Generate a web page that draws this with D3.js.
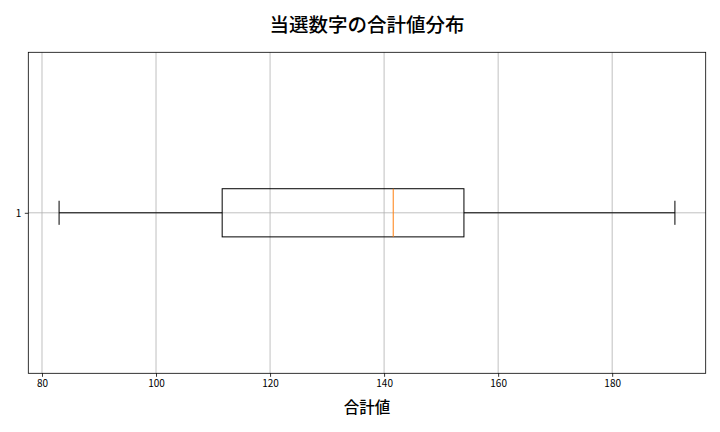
<!DOCTYPE html>
<html>
<head>
<meta charset="utf-8">
<script src="https://cdn.jsdelivr.net/npm/d3@7"></script>
<style>
  body { margin: 0; background: #fff; }
  text { font-family: "Noto Sans CJK JP", "Noto Sans", sans-serif; }
</style>
</head>
<body>
<div id="chart"></div>
<script>
// box plot summary
var categories = ["1"];
var whiskerLow = [83];
var q1 = [111.6];
var median = [141.6];
var q3 = [154];
var whiskerHigh = [191];
var xTicks = [80, 100, 120, 140, 160, 180];

var svgWidth = 720;
var svgHeight = 432;

var margin = { top: 52.3, right: 14.3, bottom: 58.7, left: 28.3 };
var width = svgWidth - margin.left - margin.right;
var height = svgHeight - margin.top - margin.bottom;

var svg = d3.select("#chart")
  .append("svg")
  .attr("width", svgWidth)
  .attr("height", svgHeight);

var chartGroup = svg.append("g")
  .attr("transform", `translate(${margin.left}, ${margin.top})`);

// matplotlib-ish 5% margins on the data range
var lo = d3.min(whiskerLow), hi = d3.max(whiskerHigh);
var pad = (hi - lo) * 0.05;
var xScale = d3.scaleLinear()
  .domain([lo - pad, hi + pad])
  .range([0, width]);

var yScale = d3.scaleLinear()
  .domain([0.5, categories.length + 0.5])
  .range([height, 0]);

var boxHalf = 0.075;
var capHalf = 0.0375;

// grid
chartGroup.append("g").selectAll("line")
  .data(xTicks)
  .enter()
  .append("line")
  .attr("x1", d => xScale(d))
  .attr("x2", d => xScale(d))
  .attr("y1", 0)
  .attr("y2", height)
  .attr("stroke", "#b0b0b0")
  .attr("stroke-width", 0.8);

chartGroup.append("g").selectAll("line")
  .data(categories)
  .enter()
  .append("line")
  .attr("x1", 0)
  .attr("x2", width)
  .attr("y1", (d, i) => yScale(i + 1))
  .attr("y2", (d, i) => yScale(i + 1))
  .attr("stroke", "#b0b0b0")
  .attr("stroke-width", 0.8);

// boxes
var boxes = chartGroup.selectAll(".box")
  .data(categories)
  .enter()
  .append("g")
  .attr("class", "box");

boxes.append("line")
  .attr("x1", (d, i) => xScale(whiskerLow[i]))
  .attr("x2", (d, i) => xScale(q1[i]))
  .attr("y1", (d, i) => yScale(i + 1))
  .attr("y2", (d, i) => yScale(i + 1))
  .attr("stroke", "black");

boxes.append("line")
  .attr("x1", (d, i) => xScale(q3[i]))
  .attr("x2", (d, i) => xScale(whiskerHigh[i]))
  .attr("y1", (d, i) => yScale(i + 1))
  .attr("y2", (d, i) => yScale(i + 1))
  .attr("stroke", "black");

boxes.append("line")
  .attr("x1", (d, i) => xScale(whiskerLow[i]))
  .attr("x2", (d, i) => xScale(whiskerLow[i]))
  .attr("y1", (d, i) => yScale(i + 1 + capHalf))
  .attr("y2", (d, i) => yScale(i + 1 - capHalf))
  .attr("stroke", "black");

boxes.append("line")
  .attr("x1", (d, i) => xScale(whiskerHigh[i]))
  .attr("x2", (d, i) => xScale(whiskerHigh[i]))
  .attr("y1", (d, i) => yScale(i + 1 + capHalf))
  .attr("y2", (d, i) => yScale(i + 1 - capHalf))
  .attr("stroke", "black");

boxes.append("rect")
  .attr("x", (d, i) => xScale(q1[i]))
  .attr("y", (d, i) => yScale(i + 1 + boxHalf))
  .attr("width", (d, i) => xScale(q3[i]) - xScale(q1[i]))
  .attr("height", (d, i) => yScale(i + 1 - boxHalf) - yScale(i + 1 + boxHalf))
  .attr("fill", "none")
  .attr("stroke", "black");

boxes.append("line")
  .attr("x1", (d, i) => xScale(median[i]))
  .attr("x2", (d, i) => xScale(median[i]))
  .attr("y1", (d, i) => yScale(i + 1 + boxHalf))
  .attr("y2", (d, i) => yScale(i + 1 - boxHalf))
  .attr("stroke", "#ff7f0e");

// axes
var bottomAxis = d3.axisBottom(xScale)
  .tickValues(xTicks)
  .tickSize(3.5)
  .tickPadding(3.5)
  .tickFormat(d3.format("d"));

var leftAxis = d3.axisLeft(yScale)
  .tickValues(categories.map((d, i) => i + 1))
  .tickSize(3.5)
  .tickPadding(3.5)
  .tickFormat((d, i) => categories[i]);

var xAxisG = chartGroup.append("g")
  .attr("transform", `translate(0, ${height})`)
  .call(bottomAxis);

var yAxisG = chartGroup.append("g").call(leftAxis);

[xAxisG, yAxisG].forEach(function(g) {
  g.select(".domain").remove();
  g.selectAll(".tick line").attr("stroke", "black").attr("stroke-width", 0.8);
  g.selectAll(".tick text")
    .style("font-size", "10px")
    .style("font-family", "'Noto Sans CJK JP', sans-serif")
    .attr("fill", "black");
});

// frame
chartGroup.append("rect")
  .attr("width", width)
  .attr("height", height)
  .attr("fill", "none")
  .attr("stroke", "black")
  .attr("stroke-width", 0.8);

// title and label
svg.append("text")
  .attr("x", margin.left + width / 2)
  .attr("y", 32)
  .attr("text-anchor", "middle")
  .style("font-size", "19.5px")
  .style("font-weight", "500")
  .text("当選数字の合計値分布");

svg.append("text")
  .attr("x", margin.left + width / 2)
  .attr("y", 413)
  .attr("text-anchor", "middle")
  .style("font-size", "15.5px")
  .style("font-weight", "500")
  .text("合計値");
</script>
</body>
</html>
